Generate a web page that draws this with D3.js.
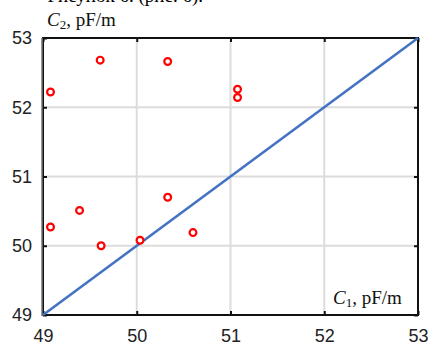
<!DOCTYPE html>
<html><head><meta charset="utf-8">
<script src="https://cdn.jsdelivr.net/npm/d3@7"></script>
<style>body{margin:0;background:#fff}svg{display:block}</style>
</head><body>
<script>
const c1Values = [49.08, 49.61, 50.33, 51.075, 51.075, 49.08, 49.39, 49.62, 50.035, 50.33, 50.60];
const c2Values = [52.22, 52.68, 52.66, 52.26, 52.14, 50.27, 50.51, 50.00, 50.08, 50.70, 50.19];
const lineX = [49, 53];
const lineY = [49, 53];
const xTicks = [49, 50, 51, 52, 53];
const yTicks = [49, 50, 51, 52, 53];

const W = 430, H = 347;
const m = {l: 43, r: 418, t: 38, b: 315};
const svg = d3.select("body").append("svg").attr("width", W).attr("height", H);
const x = d3.scaleLinear().domain([49, 53]).range([m.l, m.r]);
const y = d3.scaleLinear().domain([49, 53]).range([m.b, m.t]);

// caption fragment (clipped at top, as in the reference)
svg.append("text").attr("x", 203).attr("y", 2).attr("text-anchor", "end")
  .attr("font-family", "Liberation Serif").attr("font-size", 19).attr("fill", "#000")
  .text("Рисунок 6. (рис. 6).");

// grid
svg.append("g").selectAll("line").data(xTicks.slice(1, -1)).join("line")
  .attr("x1", d => x(d)).attr("x2", d => x(d)).attr("y1", m.t).attr("y2", m.b)
  .attr("stroke", "#dcdcdc").attr("stroke-width", 2);
svg.append("g").selectAll("line").data(yTicks.slice(1, -1)).join("line")
  .attr("y1", d => y(d)).attr("y2", d => y(d)).attr("x1", m.l).attr("x2", m.r)
  .attr("stroke", "#dcdcdc").attr("stroke-width", 2);

// axes with inward ticks
const fmt = d3.format("d");
const ax = (g, axis) => { g.call(axis); g.select(".domain").remove();
  g.selectAll(".tick line").attr("stroke", "#111").attr("stroke-width", 2);
  g.selectAll(".tick text").attr("font-family", "Liberation Sans").attr("font-size", 18).attr("fill", "#222"); };
svg.append("g").attr("transform", `translate(0,${m.b})`)
  .call(g => ax(g, d3.axisBottom(x).tickValues(xTicks).tickFormat(fmt).tickSizeInner(-4).tickSizeOuter(0).tickPadding(14)));
svg.append("g").attr("transform", `translate(0,${m.t})`)
  .call(g => { ax(g, d3.axisTop(x).tickValues(xTicks).tickFormat("").tickSizeInner(-4).tickSizeOuter(0)); });
svg.append("g").attr("transform", `translate(${m.l},0)`)
  .call(g => ax(g, d3.axisLeft(y).tickValues(yTicks).tickFormat(fmt).tickSizeInner(-4).tickSizeOuter(0).tickPadding(11)));
svg.append("g").attr("transform", `translate(${m.r},0)`)
  .call(g => ax(g, d3.axisRight(y).tickValues(yTicks).tickFormat("").tickSizeInner(-4).tickSizeOuter(0)));

// frame
svg.append("rect").attr("x", m.l).attr("y", m.t).attr("width", m.r - m.l).attr("height", m.b - m.t)
  .attr("fill", "none").attr("stroke", "#111").attr("stroke-width", 2);
svg.append("line").attr("x1", m.l - 1).attr("x2", m.l - 1).attr("y1", m.t).attr("y2", m.b + 1)
  .attr("stroke", "#777").attr("stroke-width", 1.5);

// diagonal line
svg.append("path").datum(d3.zip(lineX, lineY))
  .attr("d", d3.line().x(d => x(d[0])).y(d => y(d[1])))
  .attr("fill", "none").attr("stroke", "#4472c4").attr("stroke-width", 2.6);

// points
svg.append("g").selectAll("circle").data(d3.zip(c1Values, c2Values)).join("circle")
  .attr("cx", d => x(d[0])).attr("cy", d => y(d[1])).attr("r", 3.4)
  .attr("fill", "#fff").attr("stroke", "#ff0000").attr("stroke-width", 2.2);

// axis labels
const lab = (tx, ty, sub) => {
  const t = svg.append("text").attr("x", tx).attr("y", ty)
    .attr("font-family", "Liberation Serif").attr("font-size", 19).attr("fill", "#111");
  t.append("tspan").attr("font-style", "italic").text("C");
  t.append("tspan").attr("font-size", 13).attr("dy", 3).text(sub);
  t.append("tspan").attr("dy", -3).text(", pF/m");
};
lab(47, 26, "2");
lab(333, 304, "1");
</script>
</body></html>
